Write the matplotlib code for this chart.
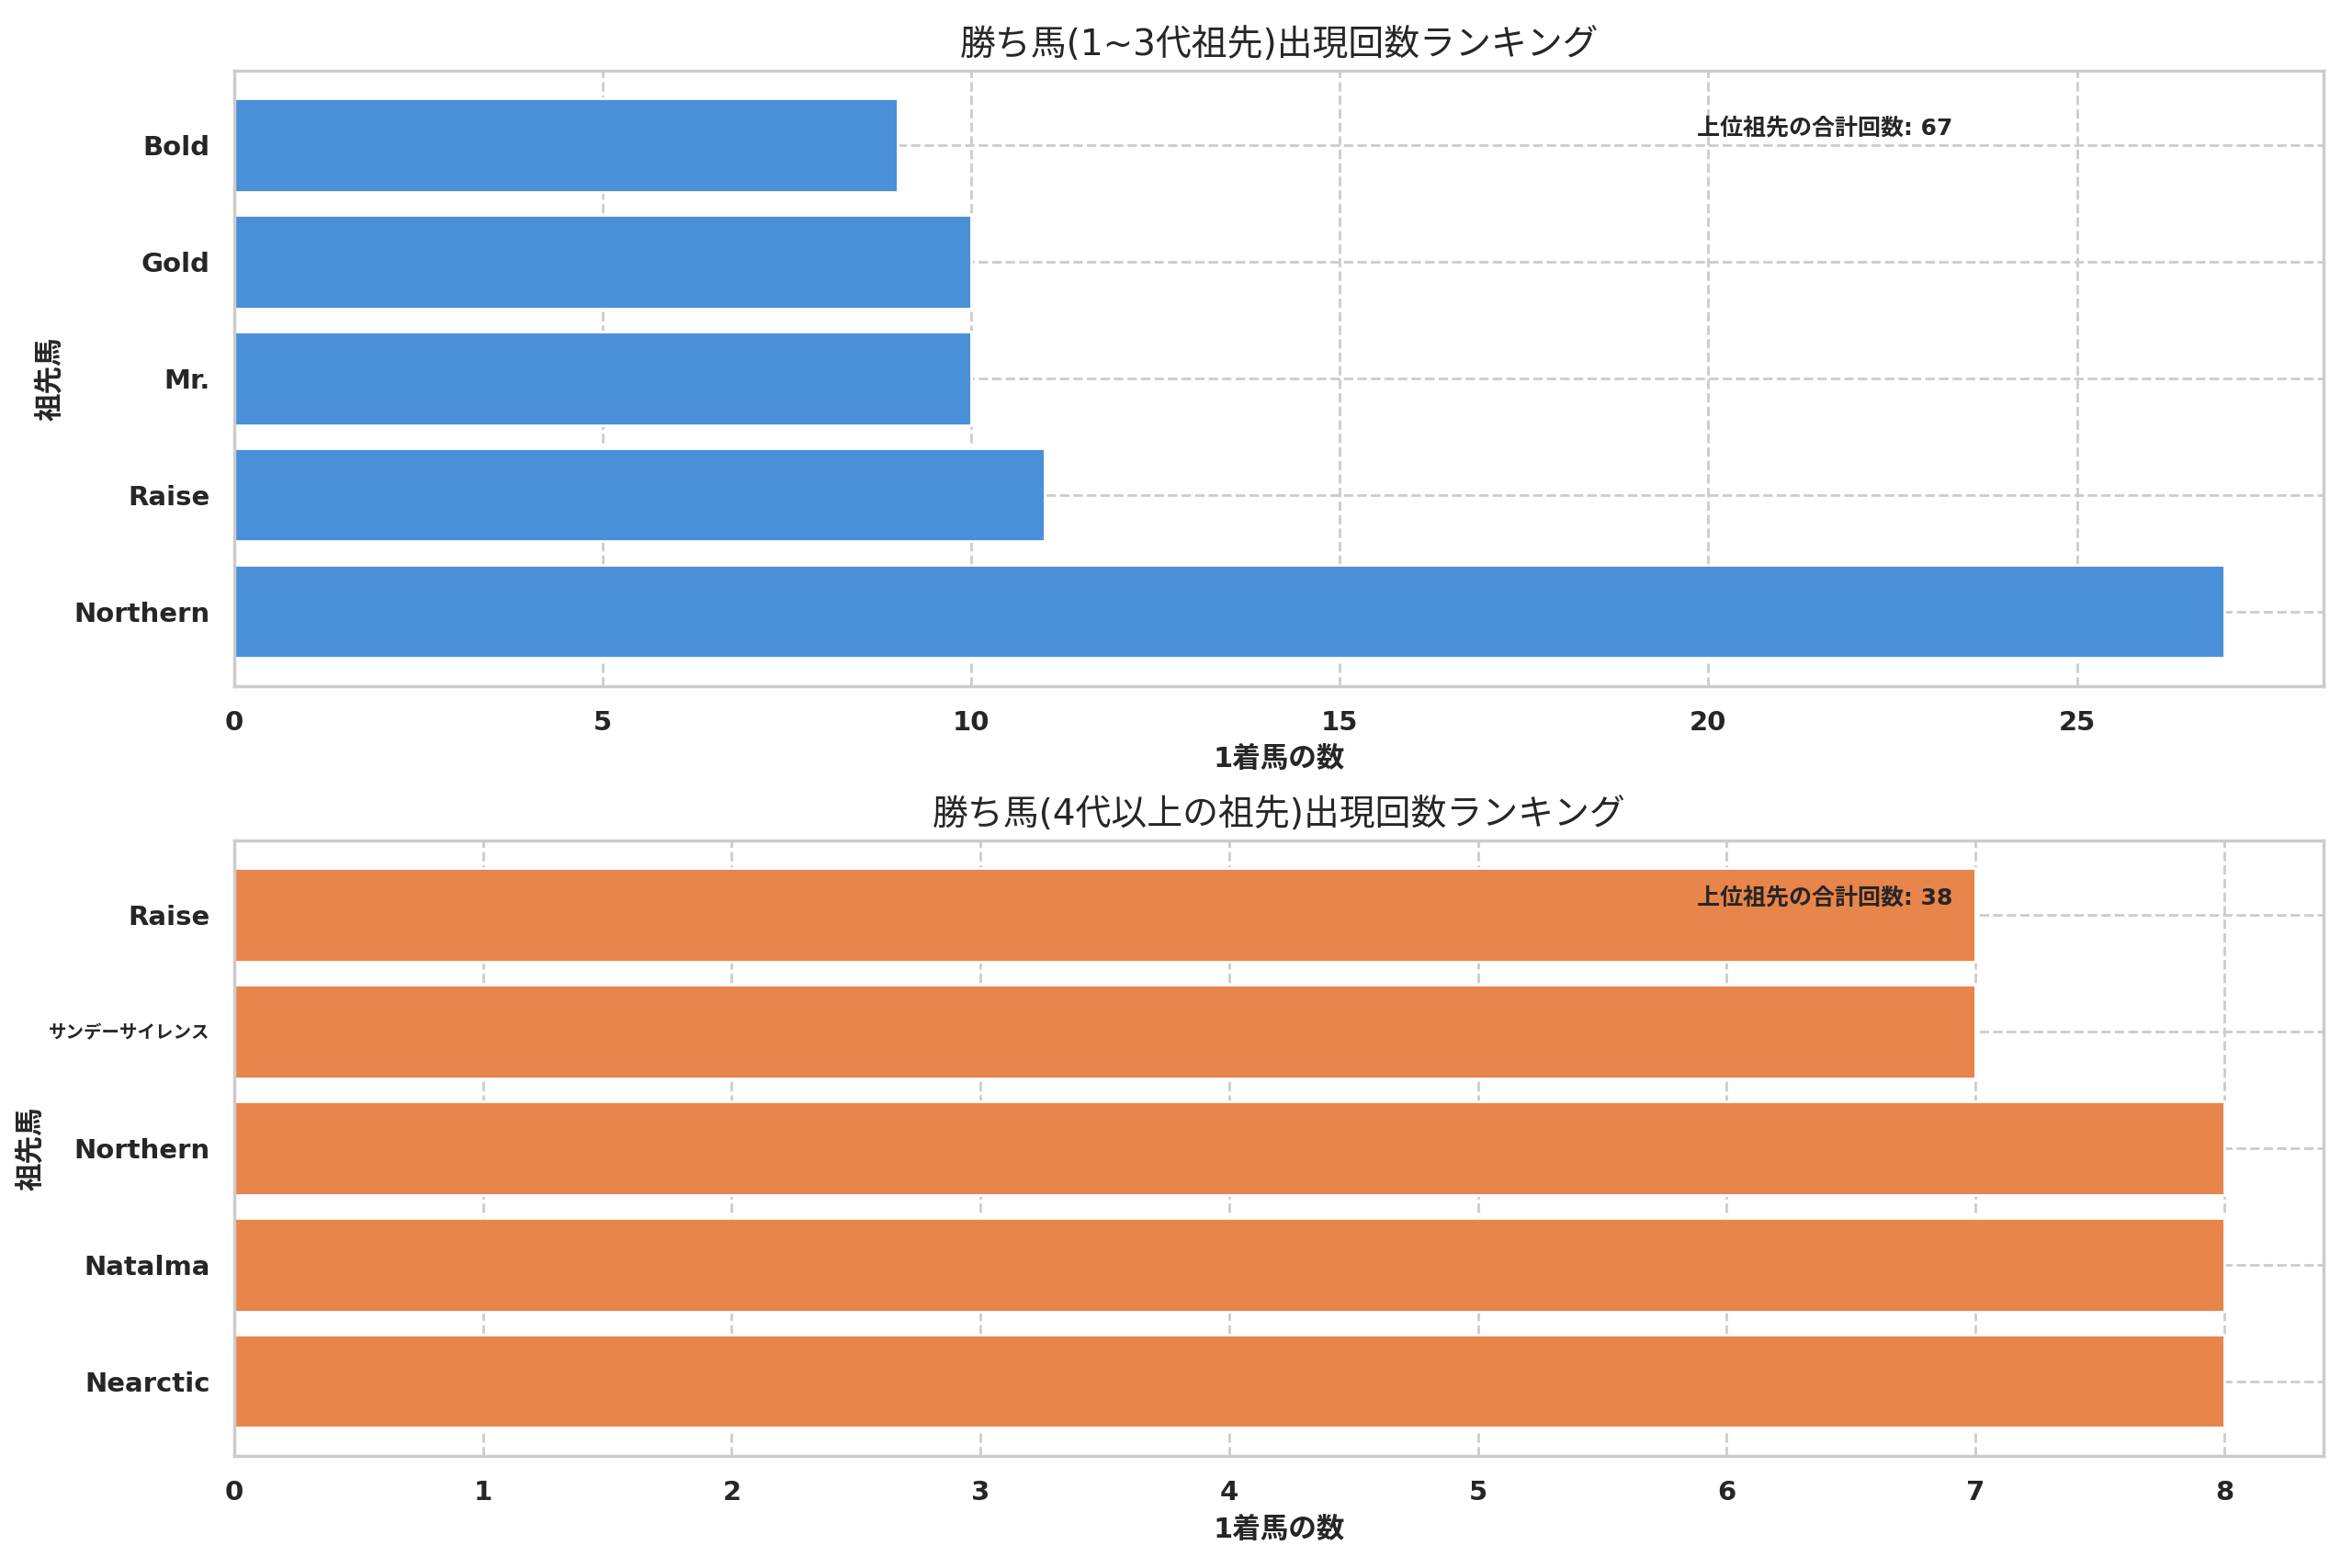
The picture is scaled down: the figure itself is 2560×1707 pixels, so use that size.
import matplotlib
matplotlib.use("Agg")
import matplotlib.pyplot as plt
import seaborn as sns

# ancestors within 3 generations
near_names = ["Northern", "Raise", "Mr.", "Gold", "Bold"]
near_wins = [27, 11, 10, 10, 9]

# ancestors from 4th generation on
far_names = ["Nearctic", "Natalma", "Northern", "サンデーサイレンス", "Raise"]
far_wins = [8, 8, 8, 7, 7]

titles = ["勝ち馬(1~3代祖先)出現回数ランキング", "勝ち馬(4代以上の祖先)出現回数ランキング"]
xlabel = "1着馬の数"
ylabel = "祖先馬"
total_label = "上位祖先の合計回数"

sns.set_theme(style="whitegrid")
plt.rcParams['font.family'] = ['DejaVu Sans', 'Noto Sans CJK JP']
plt.rcParams['grid.linestyle'] = '--'

fig, axes = plt.subplots(2, 1, figsize=(12.8, 8.535), dpi=200)
fig.subplots_adjust(left=0.0996, right=0.988, top=0.955, bottom=0.0715, hspace=0.251)

data = [(near_names, near_wins, "#4A90D9"), (far_names, far_wins, "#E8854A")]

for ax, (names, wins, col), title in zip(axes, data, titles):
    ax.barh(names, wins, color=col, height=0.8, zorder=2)
    ax.set_title(title, fontsize=14)
    ax.set_xlabel(xlabel, fontsize=11, fontweight='bold')
    ax.set_ylabel(ylabel, fontsize=11, fontweight='bold')
    for lab in ax.get_xticklabels() + ax.get_yticklabels():
        lab.set_fontweight('bold')
        lab.set_fontsize(10.5)
    # long katakana names need a smaller size to fit the margin
    for lab in ax.get_yticklabels():
        if not lab.get_text().isascii():
            lab.set_fontsize(7)
    ax.grid(True, linestyle='--', color='#cccccc', zorder=0)
    ax.text(0.7, 0.925, f"{total_label}: {sum(wins)}", transform=ax.transAxes,
            fontsize=9, fontweight='bold', va='top')

axes[1].yaxis.set_label_coords(-0.091, 0.5)

fig.savefig("out.png", dpi=200)
